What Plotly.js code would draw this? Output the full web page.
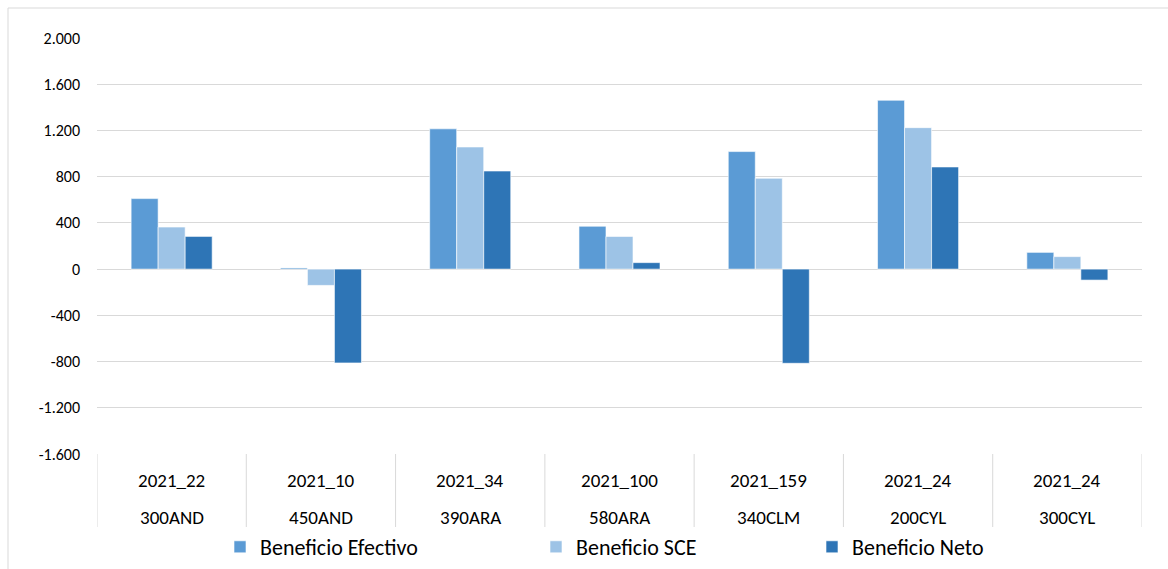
<!DOCTYPE html>
<html>
<head>
<meta charset="utf-8">
<script src="https://cdn.plot.ly/plotly-3.0.1.min.js"></script>
<style>
html,body{margin:0;padding:0;background:#fff;}
#chart{width:1168px;height:569px;}
</style>
</head>
<body>
<div id="chart"></div>
<script>
// ---- data ----
const codes = ["2021_22", "2021_10", "2021_34", "2021_100", "2021_159", "2021_24", "2021_24"];
const units = ["300AND", "450AND", "390ARA", "580ARA", "340CLM", "200CYL", "300CYL"];
const beneficioEfectivo = [610, 10, 1214, 371, 1017, 1461, 145];
const beneficioSCE = [364, -141, 1057, 283, 786, 1224, 108];
const beneficioNeto = [283, -812, 849, 56, -815, 884, -95];
const seriesNames = ["Beneficio Efectivo", "Beneficio SCE", "Beneficio Neto"];
const yTickValues = [-1600, -1200, -800, -400, 0, 400, 800, 1200, 1600, 2000];
const yTickLabels = ["-1.600", "-1.200", "-800", "-400", "0", "400", "800", "1.200", "1.600", "2.000"];

// ---- style ----
const colors = ["#5B9BD5", "#9DC3E6", "#2E75B6"];
const FONT = "Carlito, Lato, 'Liberation Sans', sans-serif";
const gridColor = "#d9d9d9";
const W = 1168, H = 569;
const M = {l: 97, r: 26, t: 38, b: 115, autoexpand: false};
const plotW = W - M.l - M.r, plotH = H - M.t - M.b;
const px2x = px => (px - M.l) / plotW;
const py2y = py => (H - M.b - py) / plotH;

const xs = units.map((u, i) => i);
const allSeries = [beneficioEfectivo, beneficioSCE, beneficioNeto];
const legendIds = ["legend", "legend2", "legend3"];

const traces = allSeries.map((vals, k) => ({
  type: "bar",
  name: seriesNames[k],
  x: xs,
  y: vals,
  marker: {color: colors[k], line: {color: "rgba(255,255,255,0.6)", width: 1}},
  legend: legendIds[k],
  hoverinfo: "name+y"
}));

const shapes = [];
const annotations = [];
// category dividers
for (let i = 0; i <= units.length; i++) {
  shapes.push({type: "line", xref: "x", yref: "paper", x0: i - 0.5, x1: i - 0.5,
    y0: 0, y1: py2y(527), line: {color: gridColor, width: 1}});
}
// category labels (two levels)
const catFont = {family: FONT, size: 19, color: "#000"};
units.forEach((u, i) => {
  annotations.push({xref: "x", yref: "paper", x: i, y: py2y(480), text: codes[i],
    showarrow: false, xanchor: "center", yanchor: "middle", font: catFont});
  annotations.push({xref: "x", yref: "paper", x: i, y: py2y(517), text: u,
    showarrow: false, xanchor: "center", yanchor: "middle", font: catFont});
});
// outer chart border
shapes.push({type: "rect", xref: "paper", yref: "paper", x0: px2x(8), x1: px2x(1190),
  y0: py2y(8), y1: py2y(590), line: {color: "#d9d9d9", width: 1}, layer: "below"});

const legendFont = {family: FONT, size: 22, color: "#000"};
const legendY = py2y(547);
const mkLegend = px => ({orientation: "h", x: px2x(px), xanchor: "left", y: legendY, yanchor: "middle",
  font: legendFont, bgcolor: "rgba(0,0,0,0)", itemclick: false, itemdoubleclick: false});

const layout = {
  width: W, height: H,
  margin: M,
  paper_bgcolor: "#fff",
  plot_bgcolor: "#fff",
  font: {family: FONT, size: 16, color: "#000"},
  barmode: "group",
  bargap: 0.457,
  bargroupgap: 0,
  showlegend: true,
  legend: mkLegend(220),
  legend2: mkLegend(536),
  legend3: mkLegend(812),
  xaxis: {
    type: "linear",
    range: [-0.5, units.length - 0.5],
    showticklabels: false,
    showgrid: false,
    zeroline: false,
    showline: false,
    ticks: ""
  },
  yaxis: {
    range: [-1600, 2000],
    tickmode: "array",
    tickvals: yTickValues,
    ticktext: yTickLabels,
    showgrid: true,
    gridcolor: gridColor,
    gridwidth: 1,
    zeroline: true,
    zerolinecolor: gridColor,
    zerolinewidth: 1,
    showline: false,
    ticks: "",
    ticklabelstandoff: 16,
    tickfont: {family: FONT, size: 16, color: "#000"}
  },
  shapes: shapes,
  annotations: annotations
};

Plotly.newPlot("chart", traces, layout, {displayModeBar: false, staticPlot: false});
</script>
</body>
</html>
